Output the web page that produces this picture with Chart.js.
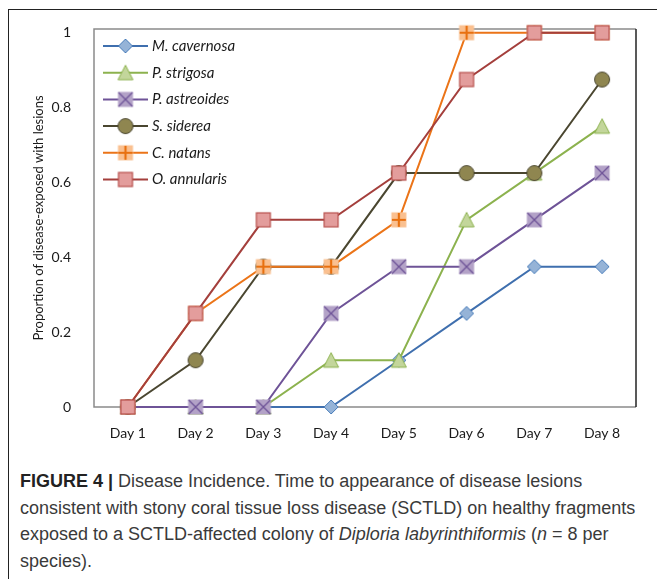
<!DOCTYPE html>
<html lang="en">
<head>
<meta charset="UTF-8">
<title>Disease Incidence</title>
<style>
  body { margin: 0; background: #fff; width: 657px; height: 579px; overflow: hidden; position: relative; }
  #frame { position: absolute; left: 8px; top: 9px; width: 700px; height: 700px; border: 1px solid #222; }
  #wrap { position: absolute; left: 0; top: 0; width: 657px; height: 460px; }
  #caption { position: absolute; left: 20px; top: 468px; width: 640px; font-family: "Liberation Sans", Arial, sans-serif;
    font-size: 18px; line-height: 26.5px; color: #3a3a3a; white-space: nowrap; }
  #caption b { color: #222; }
</style>
</head>
<body>
<div id="frame"></div>
<div id="wrap"><canvas id="incidence"></canvas></div>
<div id="caption"><b>FIGURE 4 |</b> Disease Incidence. Time to appearance of disease lesions<br>consistent with stony coral tissue loss disease (SCTLD) on healthy fragments<br>exposed to a SCTLD-affected colony of <i>Diploria labyrinthiformis</i> (<i>n</i> = 8 per<br>species).</div>

<script src="https://cdn.jsdelivr.net/npm/chart.js"></script>
<script>
// days and proportions (n = 8 per species)
const days = ['Day 1', 'Day 2', 'Day 3', 'Day 4', 'Day 5', 'Day 6', 'Day 7', 'Day 8'];
const species = ['M. cavernosa', 'P. strigosa', 'P. astreoides', 'S. siderea', 'C. natans', 'O. annularis'];
const mCavernosa = [0, 0, 0, 0, 0.125, 0.25, 0.375, 0.375];
const pStrigosa = [0, 0, 0, 0.125, 0.125, 0.5, 0.625, 0.75];
const pAstreoides = [0, 0, 0, 0.25, 0.375, 0.375, 0.5, 0.625];
const sSiderea = [0, 0.125, 0.375, 0.375, 0.625, 0.625, 0.625, 0.875];
const cNatans = [0, 0.25, 0.375, 0.375, 0.5, 1, 1, 1];
const oAnnularis = [0, 0.25, 0.5, 0.5, 0.625, 0.875, 1, 1];
const yTicks = [0, 0.2, 0.4, 0.6, 0.8, 1];

const FONT = 'Lato, "Open Sans", sans-serif';

// little canvases used as point markers (same ones go in the legend)
function makeMarker(kind, fill, stroke) {
  const c = document.createElement('canvas');
  c.width = 18; c.height = 18;
  const g = c.getContext('2d');
  g.fillStyle = fill;
  g.strokeStyle = stroke;
  g.lineWidth = 1;
  if (kind === 'diamond') {
    g.beginPath();
    g.moveTo(9, 2); g.lineTo(16, 9); g.lineTo(9, 16); g.lineTo(2, 9); g.closePath();
    g.fill(); g.stroke();
  } else if (kind === 'triangle') {
    g.beginPath();
    g.moveTo(9, 1.5); g.lineTo(16.5, 16); g.lineTo(1.5, 16); g.closePath();
    g.fill(); g.stroke();
  } else if (kind === 'xsquare') {
    g.fillRect(1.5, 1.5, 15, 15);
    g.lineWidth = 1.3;
    g.beginPath();
    g.moveTo(2, 2); g.lineTo(16, 16); g.moveTo(16, 2); g.lineTo(2, 16);
    g.stroke();
  } else if (kind === 'circle') {
    g.beginPath();
    g.arc(9, 9, 7.5, 0, Math.PI * 2);
    g.fill(); g.stroke();
  } else if (kind === 'plus') {
    g.fillRect(1.5, 1.5, 15, 15);
    g.lineWidth = 2.2;
    g.beginPath();
    g.moveTo(9, 2); g.lineTo(9, 16); g.moveTo(2, 9); g.lineTo(16, 9);
    g.stroke();
  } else {
    g.fillRect(2, 2, 14, 14);
    g.lineWidth = 1.2;
    g.strokeRect(2, 2, 14, 14);
  }
  return c;
}

const series = [mCavernosa, pStrigosa, pAstreoides, sSiderea, cNatans, oAnnularis];
const lineColors = ['#3f6fae', '#8cb24e', '#6e5397', '#4a4630', '#eb7418', '#a43f3c'];
const markers = [
  makeMarker('diamond', '#95b3d7', '#4a7ebb'),
  makeMarker('triangle', '#c3d69b', '#8cb24e'),
  makeMarker('xsquare', '#b3a2c7', '#6e5397'),
  makeMarker('circle', '#8f8650', '#4a4630'),
  makeMarker('plus', '#fac090', '#e8700f'),
  makeMarker('square', '#e39d9c', '#b8504d')
];

const datasets = species.map((name, i) => ({
  label: name,
  data: series[i],
  borderColor: lineColors[i],
  backgroundColor: lineColors[i],
  borderWidth: 2,
  pointStyle: markers[i],
  pointHoverStyle: markers[i],
  tension: 0,
  clip: false,
  order: species.length - i
}));

// plot area box: grey on top/left/bottom, dark on the right
const plotBox = {
  id: 'plotBox',
  beforeDatasetsDraw(chart) {
    const a = chart.chartArea, ctx = chart.ctx;
    ctx.save();
    ctx.lineWidth = 1.5;
    ctx.strokeStyle = '#8a8a8a';
    ctx.beginPath();
    ctx.moveTo(a.right, a.top); ctx.lineTo(a.left, a.top);
    ctx.lineTo(a.left, a.bottom); ctx.lineTo(a.right, a.bottom);
    ctx.stroke();
    ctx.strokeStyle = '#222';
    ctx.beginPath();
    ctx.moveTo(a.right, a.top); ctx.lineTo(a.right, a.bottom);
    ctx.stroke();
    ctx.restore();
  }
};

// legend inside the plot, line through marker
const innerLegend = {
  id: 'innerLegend',
  afterDatasetsDraw(chart) {
    const a = chart.chartArea, ctx = chart.ctx;
    ctx.save();
    ctx.font = 'italic 15px ' + FONT;
    ctx.textBaseline = 'middle';
    chart.data.datasets.forEach((ds, i) => {
      const y = a.top + 17 + i * 26.7;
      const x0 = a.left + 9;
      ctx.strokeStyle = ds.borderColor;
      ctx.lineWidth = 2;
      ctx.beginPath();
      ctx.moveTo(x0, y); ctx.lineTo(x0 + 45, y);
      ctx.stroke();
      ctx.drawImage(ds.pointStyle, x0 + 22.5 - 9, y - 9);
      ctx.fillStyle = '#1a1a1a';
      ctx.fillText(ds.label, x0 + 49, y);
    });
    ctx.restore();
  }
};

new Chart(document.getElementById('incidence'), {
  type: 'line',
  data: { labels: days, datasets: datasets },
  plugins: [plotBox, innerLegend],
  options: {
    responsive: true,
    maintainAspectRatio: false,
    animation: false,
    layout: { padding: { left: 31, right: 21, top: 29, bottom: 13 } },
    plugins: { legend: { display: false }, tooltip: { enabled: false } },
    scales: {
      x: {
        offset: true,
        grid: { display: false },
        border: { display: false },
        ticks: { color: '#1a1a1a', padding: 10, font: { family: FONT, size: 14 } },
        afterFit(scale) { scale.height = 40; }
      },
      y: {
        min: 0,
        max: 1.01,
        grid: { display: false },
        border: { display: false },
        afterBuildTicks(scale) { scale.ticks = yTicks.map(v => ({ value: v })); },
        ticks: {
          color: '#1a1a1a',
          padding: 15,
          font: { family: FONT, size: 14 },
          callback: v => String(v)
        },
        title: {
          display: true,
          text: 'Proportion of disease-exposed with lesions',
          color: '#1a1a1a',
          font: { family: FONT, size: 13 },
          padding: { top: 0, bottom: 0 }
        },
        afterFit(scale) { scale.width = 63; }
      }
    }
  }
});
</script>
</body>
</html>
